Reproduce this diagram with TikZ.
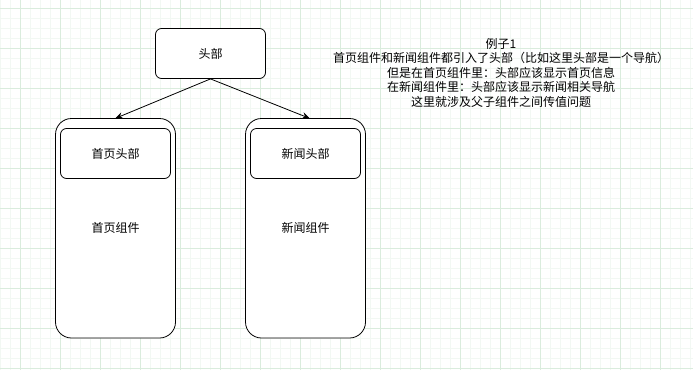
\documentclass[tikz,border=0pt]{standalone}
\usepackage{fontspec}
\setmainfont{Noto Sans CJK SC}
\usepackage{tikz}
\usetikzlibrary{arrows.meta}
\definecolor{GridMinor}{RGB}{242,248,243}
\definecolor{GridMajor}{RGB}{218,236,221}
\begin{document}
\begin{tikzpicture}[x=1pt,y=-1pt,font=\fontsize{12}{14.5}\selectfont,
  blk/.style n args={3}{draw,thick,fill=white,rounded corners=#3,minimum width=#1,minimum height=#2,inner sep=0pt},
  arr/.style={thick,-{Stealth[length=8pt,width=6.5pt]}}]
\useasboundingbox (0,0) rectangle (693,370);
\fill[white] (0,0) rectangle (693,370);
\foreach \x in {0,10,...,690} {
   \draw[GridMinor,line width=0.8pt] (\x,0) -- (\x,370);
}
\foreach \y in {-2,8,...,368} {
   \draw[GridMinor,line width=0.8pt] (0,\y) -- (693,\y);
}
\foreach \x in {20,60,...,680} {
   \draw[GridMajor,line width=0.8pt] (\x,0) -- (\x,370);
}
\foreach \y in {8,48,...,368} {
   \draw[GridMajor,line width=0.8pt] (0,\y) -- (693,\y);
}
   \node[blk={110pt}{50pt}{6pt}](head) at(210.5,53.5) {头部};
   \node[blk={120pt}{219.5pt}{16pt}](home) at(115.5,228.25) {};
   \node[blk={110pt}{50pt}{6pt}](homehead) at(115.5,153.5) {首页头部};
   \node at(115.5,228) {首页组件};
   \node[blk={120pt}{219.5pt}{16pt}](news) at(305.5,228.25) {};
   \node[blk={110pt}{50pt}{6pt}](newshead) at(305.5,153.5) {新闻头部};
   \node at(305.5,228) {新闻组件};
   \coordinate (hl) at (115,118.5);
   \coordinate (hr) at (310,118.5);
   \draw[arr] (head.south) -- (hl);
   \draw[arr] (head.south) -- (hr);
   \node[align=center,inner sep=0pt](note) at(501,72.5) {例子1\\首页组件和新闻组件都引入了头部（比如这里头部是一个导航）\\但是在首页组件里：头部应该显示首页信息\\在新闻组件里：头部应该显示新闻相关导航\\这里就涉及父子组件之间传值问题};
\end{tikzpicture}
\end{document}
